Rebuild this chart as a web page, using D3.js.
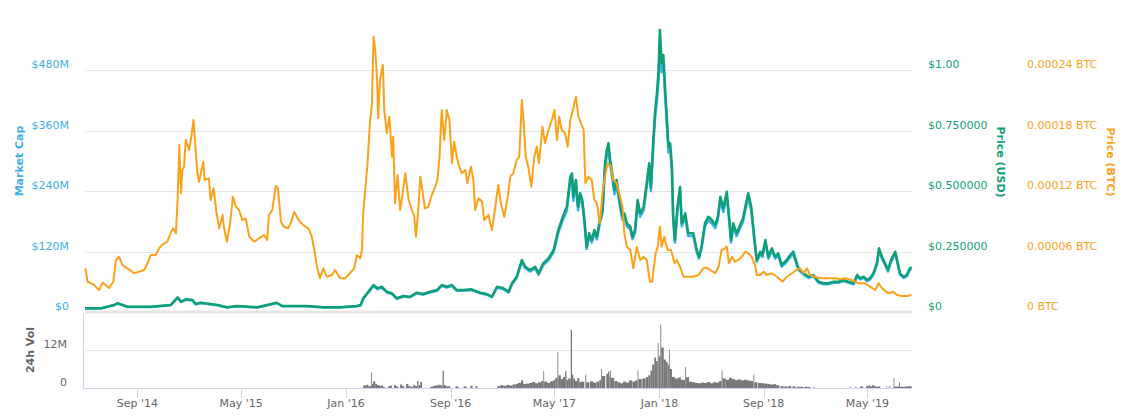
<!DOCTYPE html>
<html><head><meta charset="utf-8">
<script src="https://cdn.jsdelivr.net/npm/d3@7"></script>
<style>body{margin:0;background:#fff}svg text{font-family:"DejaVu Sans",sans-serif}</style>
</head><body><svg id="chart" width="1142" height="417"></svg>
<script>
const btcDates = ["2014-05-03","2014-05-08","2014-05-15","2014-05-23","2014-06-04","2014-06-12","2014-06-19","2014-06-27","2014-07-07","2014-07-13","2014-07-21","2014-07-28","2014-08-09","2014-08-25","2014-09-05","2014-09-17","2014-09-25","2014-10-02","2014-10-14","2014-10-22","2014-11-02","2014-11-10","2014-11-19","2014-11-24","2014-11-30","2014-12-04","2014-12-08","2014-12-12","2014-12-15","2014-12-19","2014-12-23","2014-12-31","2015-01-05","2015-01-10","2015-01-15","2015-01-19","2015-01-23","2015-02-02","2015-02-05","2015-02-15","2015-02-19","2015-02-26","2015-03-05","2015-03-11","2015-03-19","2015-03-22","2015-03-29","2015-04-05","2015-04-12","2015-04-19","2015-04-26","2015-05-04","2015-05-12","2015-05-20","2015-06-01","2015-06-12","2015-06-24","2015-07-01","2015-07-05","2015-07-13","2015-07-21","2015-07-26","2015-08-02","2015-08-09","2015-08-19","2015-08-26","2015-09-02","2015-09-12","2015-09-23","2015-10-05","2015-10-13","2015-10-19","2015-10-25","2015-11-01","2015-11-09","2015-11-17","2015-11-29","2015-12-06","2015-12-18","2015-12-30","2016-01-10","2016-01-20","2016-01-26","2016-02-03","2016-02-07","2016-02-10","2016-02-14","2016-02-20","2016-02-26","2016-03-01","2016-03-05","2016-03-09","2016-03-13","2016-03-16","2016-03-20","2016-03-27","2016-03-30","2016-04-05","2016-04-11","2016-04-17","2016-04-20","2016-04-24","2016-04-30","2016-05-06","2016-05-12","2016-05-18","2016-05-26","2016-05-31","2016-06-08","2016-06-12","2016-06-18","2016-06-22","2016-06-28","2016-07-03","2016-07-11","2016-07-19","2016-07-27","2016-08-01","2016-08-06","2016-08-11","2016-08-17","2016-08-23","2016-08-29","2016-09-04","2016-09-09","2016-09-15","2016-09-21","2016-09-27","2016-10-05","2016-10-10","2016-10-18","2016-10-24","2016-10-28","2016-11-05","2016-11-13","2016-11-18","2016-11-28","2016-12-06","2016-12-14","2016-12-21","2016-12-27","2017-01-04","2017-01-12","2017-01-18","2017-01-25","2017-02-02","2017-02-08","2017-02-14","2017-02-18","2017-02-23","2017-03-01","2017-03-08","2017-03-15","2017-03-21","2017-03-26","2017-04-03","2017-04-09","2017-04-17","2017-04-25","2017-05-01","2017-05-07","2017-05-12","2017-05-18","2017-05-26","2017-06-01","2017-06-07","2017-06-14","2017-06-20","2017-06-26","2017-07-02","2017-07-08","2017-07-12","2017-07-19","2017-07-27","2017-08-02","2017-08-08","2017-08-15","2017-08-21","2017-08-27","2017-09-02","2017-09-10","2017-09-15","2017-09-23","2017-10-01","2017-10-07","2017-10-11","2017-10-17","2017-10-25","2017-11-01","2017-11-09","2017-11-17","2017-11-25","2017-12-02","2017-12-10","2017-12-15","2017-12-23","2017-12-28","2018-01-02","2018-01-06","2018-01-12","2018-01-20","2018-01-28","2018-02-05","2018-02-10","2018-02-18","2018-02-26","2018-03-09","2018-03-21","2018-04-02","2018-04-13","2018-04-20","2018-04-29","2018-05-11","2018-05-19","2018-05-26","2018-06-03","2018-06-07","2018-06-12","2018-06-19","2018-06-26","2018-07-04","2018-07-12","2018-07-20","2018-07-27","2018-08-04","2018-08-12","2018-08-16","2018-08-24","2018-09-01","2018-09-08","2018-09-20","2018-10-02","2018-10-15","2018-10-25","2018-11-06","2018-11-17","2018-11-25","2018-12-03","2018-12-11","2018-12-18","2018-12-30","2019-01-11","2019-01-22","2019-02-03","2019-02-15","2019-02-26","2019-03-10","2019-03-26","2019-04-10","2019-04-26","2019-05-07","2019-05-19","2019-05-27","2019-06-04","2019-06-19","2019-07-01","2019-07-09","2019-07-20","2019-08-01","2019-08-12"];
const btcPrice = [4.33e-5,3.00e-5,2.88e-5,2.68e-5,2.18e-5,2.91e-5,2.68e-5,2.38e-5,3.00e-5,5.16e-5,5.48e-5,4.66e-5,4.33e-5,3.84e-5,4.00e-5,4.17e-5,4.83e-5,5.65e-5,5.65e-5,6.32e-5,6.81e-5,6.97e-5,7.96e-5,8.30e-5,7.80e-5,11.11e-5,16.56e-5,11.77e-5,14.08e-5,14.41e-5,17.06e-5,16.07e-5,17.38e-5,19.04e-5,16.07e-5,13.91e-5,12.92e-5,14.90e-5,13.09e-5,13.26e-5,11.11e-5,12.27e-5,9.79e-5,8.30e-5,9.62e-5,8.46e-5,6.97e-5,8.63e-5,11.43e-5,10.44e-5,10.12e-5,9.12e-5,9.29e-5,7.47e-5,6.97e-5,7.31e-5,7.64e-5,7.14e-5,9.62e-5,10.12e-5,12.50e-5,12.27e-5,8.96e-5,8.46e-5,8.30e-5,8.96e-5,9.95e-5,9.12e-5,8.63e-5,8.30e-5,7.47e-5,6.15e-5,4.49e-5,3.34e-5,4.33e-5,3.50e-5,3.67e-5,4.17e-5,3.34e-5,3.34e-5,3.84e-5,4.33e-5,5.65e-5,5.33e-5,6.15e-5,9.79e-5,11.77e-5,14.75e-5,19.04e-5,20.36e-5,27.30e-5,25.98e-5,23.33e-5,19.21e-5,23.01e-5,24.49e-5,20.03e-5,17.72e-5,19.37e-5,15.40e-5,17.38e-5,10.78e-5,13.59e-5,10.12e-5,11.77e-5,13.75e-5,11.11e-5,10.44e-5,9.45e-5,7.47e-5,10.44e-5,13.42e-5,11.77e-5,10.28e-5,10.44e-5,11.60e-5,12.43e-5,13.09e-5,15.40e-5,20.03e-5,17.06e-5,20.03e-5,19.04e-5,14.75e-5,16.89e-5,15.40e-5,14.41e-5,13.75e-5,14.08e-5,12.76e-5,14.41e-5,13.09e-5,10.12e-5,11.28e-5,10.94e-5,9.12e-5,9.62e-5,8.13e-5,10.44e-5,12.59e-5,10.78e-5,9.45e-5,11.40e-5,13.42e-5,13.75e-5,15.07e-5,15.40e-5,21.02e-5,19.04e-5,15.40e-5,14.41e-5,12.43e-5,15.40e-5,16.39e-5,14.75e-5,18.38e-5,16.73e-5,18.05e-5,19.04e-5,20.03e-5,17.06e-5,19.37e-5,18.05e-5,17.72e-5,16.39e-5,19.04e-5,20.20e-5,21.35e-5,19.37e-5,18.71e-5,18.05e-5,12.76e-5,13.42e-5,13.09e-5,11.11e-5,10.78e-5,8.80e-5,11.77e-5,13.42e-5,14.75e-5,14.41e-5,13.09e-5,12.76e-5,11.43e-5,10.44e-5,7.80e-5,6.48e-5,6.15e-5,4.33e-5,6.48e-5,5.16e-5,5.48e-5,5.16e-5,3.00e-5,3.00e-5,5.82e-5,6.48e-5,8.46e-5,6.48e-5,7.47e-5,6.15e-5,6.15e-5,4.83e-5,5.16e-5,4.49e-5,3.50e-5,3.50e-5,3.50e-5,3.67e-5,4.33e-5,4.40e-5,4.17e-5,3.84e-5,4.49e-5,6.15e-5,6.32e-5,6.48e-5,4.83e-5,5.48e-5,4.99e-5,5.16e-5,5.48e-5,5.98e-5,5.82e-5,5.48e-5,4.66e-5,3.67e-5,3.67e-5,4.00e-5,3.67e-5,3.84e-5,3.50e-5,3.00e-5,3.50e-5,3.84e-5,4.17e-5,4.33e-5,3.84e-5,4.33e-5,3.67e-5,3.50e-5,3.34e-5,3.34e-5,3.34e-5,3.34e-5,3.24e-5,3.34e-5,3.17e-5,2.85e-5,2.85e-5,2.51e-5,2.18e-5,2.85e-5,2.35e-5,1.85e-5,2.01e-5,1.69e-5,1.59e-5,1.59e-5,1.69e-5];

const usdDates = ["2014-05-02","2014-06-08","2014-07-09","2014-07-17","2014-08-09","2014-10-02","2014-11-18","2014-12-04","2014-12-12","2014-12-23","2015-01-08","2015-01-15","2015-01-27","2015-03-07","2015-03-29","2015-04-22","2015-06-08","2015-07-01","2015-07-23","2015-08-05","2015-09-02","2015-10-01","2015-11-09","2015-12-18","2016-01-26","2016-02-04","2016-02-10","2016-02-22","2016-03-05","2016-03-14","2016-03-24","2016-04-05","2016-04-17","2016-04-28","2016-05-14","2016-05-29","2016-06-14","2016-06-29","2016-07-15","2016-07-31","2016-08-11","2016-08-23","2016-09-04","2016-09-15","2016-10-01","2016-10-20","2016-11-09","2016-11-24","2016-12-06","2016-12-18","2017-01-02","2017-01-14","2017-01-22","2017-02-02","2017-02-14","2017-02-22","2017-03-05","2017-03-17","2017-03-25","2017-04-05","2017-04-17","2017-04-29","2017-05-10","2017-05-22","2017-05-30","2017-06-07","2017-06-11","2017-06-14","2017-06-20","2017-06-25","2017-06-30","2017-07-05","2017-07-10","2017-07-15","2017-07-21","2017-07-27","2017-08-02","2017-08-08","2017-08-15","2017-08-21","2017-08-27","2017-08-31","2017-09-04","2017-09-08","2017-09-13","2017-09-18","2017-09-23","2017-10-01","2017-10-07","2017-10-11","2017-10-17","2017-10-25","2017-10-30","2017-11-05","2017-11-11","2017-11-17","2017-11-25","2017-12-02","2017-12-08","2017-12-12","2017-12-18","2017-12-22","2017-12-26","2017-12-30","2018-01-02","2018-01-06","2018-01-10","2018-01-14","2018-01-18","2018-01-22","2018-01-26","2018-01-30","2018-02-02","2018-02-06","2018-02-12","2018-02-18","2018-02-22","2018-03-02","2018-03-09","2018-03-21","2018-03-29","2018-04-03","2018-04-09","2018-04-17","2018-04-25","2018-05-03","2018-05-11","2018-05-17","2018-05-23","2018-05-30","2018-06-07","2018-06-12","2018-06-17","2018-06-22","2018-06-30","2018-07-08","2018-07-15","2018-07-21","2018-07-27","2018-08-03","2018-08-10","2018-08-16","2018-08-24","2018-08-29","2018-09-05","2018-09-12","2018-09-20","2018-09-28","2018-10-05","2018-10-13","2018-10-25","2018-11-02","2018-11-09","2018-11-15","2018-11-21","2018-12-03","2018-12-15","2018-12-26","2019-01-07","2019-01-19","2019-01-30","2019-02-11","2019-02-23","2019-03-06","2019-03-18","2019-03-30","2019-04-07","2019-04-14","2019-04-22","2019-04-30","2019-05-07","2019-05-15","2019-05-23","2019-05-28","2019-06-04","2019-06-11","2019-06-18","2019-06-25","2019-07-05","2019-07-11","2019-07-16","2019-07-24","2019-08-01","2019-08-06","2019-08-11"];
const usdPrice = [0.0153,0.0153,0.0289,0.0360,0.0219,0.0219,0.0289,0.0607,0.0426,0.0525,0.0496,0.0331,0.0384,0.0289,0.0194,0.0248,0.0194,0.0289,0.0384,0.0248,0.0248,0.0248,0.0194,0.0194,0.0248,0.0289,0.0566,0.0839,0.1116,0.0979,0.1045,0.0839,0.0773,0.0566,0.0661,0.0632,0.0798,0.0744,0.0839,0.0909,0.1116,0.1045,0.1116,0.0909,0.0909,0.0938,0.0798,0.0744,0.0632,0.1045,0.0979,0.0839,0.1186,0.1459,0.2149,0.1872,0.1736,0.1872,0.1599,0.2012,0.2219,0.2562,0.3388,0.4008,0.4351,0.5591,0.5731,0.4764,0.5455,0.4351,0.4905,0.4628,0.3802,0.2698,0.3252,0.2975,0.3388,0.3112,0.3802,0.4215,0.6145,0.6694,0.6971,0.6281,0.5731,0.5041,0.5455,0.4492,0.3938,0.4079,0.3665,0.3525,0.3112,0.3388,0.4628,0.4079,0.4351,0.5318,0.6145,0.5178,0.7244,0.8347,0.9037,1.0000,1.1653,1.0277,1.0620,0.9310,0.8070,0.6831,0.6971,0.6004,0.3938,0.2975,0.4351,0.5178,0.3665,0.4079,0.3252,0.3252,0.2562,0.2285,0.2698,0.3665,0.3938,0.3802,0.3595,0.3938,0.4764,0.4285,0.4971,0.4008,0.2975,0.3665,0.3252,0.3595,0.3872,0.4421,0.4905,0.4351,0.3112,0.2149,0.2492,0.2355,0.2975,0.2285,0.2632,0.2285,0.2426,0.1942,0.2149,0.2355,0.2492,0.2149,0.1806,0.1599,0.1459,0.1529,0.1252,0.1186,0.1186,0.1252,0.1252,0.1322,0.1252,0.1186,0.1529,0.1393,0.1459,0.1322,0.1393,0.1599,0.2012,0.2632,0.2285,0.2012,0.1736,0.2149,0.2492,0.2012,0.1599,0.1459,0.1529,0.1736,0.1872];
// market cap in millions of USD, read at the same dates as usdDates
const marketCap = [7.1,7.1,13.4,16.7,10.1,10.1,13.4,28.1,19.7,24.3,23.0,15.3,17.8,13.4,9.0,11.5,9.0,13.4,17.8,11.5,11.5,11.5,9.0,9.0,11.5,13.4,26.2,38.8,51.7,45.3,48.4,38.8,35.8,26.2,30.6,29.3,36.9,34.4,38.8,42.1,51.7,48.4,51.7,42.1,42.1,43.4,36.9,34.4,29.3,48.4,45.3,38.8,54.9,67.6,99.5,86.7,80.4,86.7,74.0,93.2,102.7,118.6,156.9,185.6,201.5,258.9,265.3,220.6,252.6,201.5,227.1,214.3,176.0,124.9,150.6,137.7,156.9,144.1,176.0,195.2,284.5,309.9,322.8,290.8,265.3,233.4,252.6,208.0,182.3,188.9,169.7,163.2,144.1,156.9,214.3,188.9,201.5,246.2,284.5,239.7,335.4,386.5,418.4,463.0,539.5,475.8,491.7,431.1,373.6,316.3,322.8,278.0,182.3,137.7,201.5,239.7,169.7,188.9,150.6,150.6,118.6,105.8,124.9,169.7,182.3,176.0,166.4,182.3,220.6,198.4,230.2,185.6,137.7,169.7,150.6,166.4,179.3,204.7,227.1,201.5,144.1,99.5,115.4,109.0,137.7,105.8,121.9,105.8,112.3,89.9,99.5,109.0,115.4,99.5,83.6,74.0,67.6,70.8,58.0,54.9,54.9,58.0,58.0,61.2,58.0,54.9,70.8,64.5,67.6,61.2,64.5,74.0,93.2,121.9,105.8,93.2,80.4,99.5,115.4,93.2,74.0,67.6,70.8,80.4,86.7];

const volDates = ["2016-02-10","2016-02-17","2016-02-22","2016-02-28","2016-03-01","2016-03-04","2016-03-09","2016-03-13","2016-03-18","2016-03-23","2016-03-27","2016-04-01","2016-04-08","2016-04-13","2016-04-17","2016-04-22","2016-04-27","2016-05-02","2016-05-06","2016-05-11","2016-05-16","2016-05-20","2016-05-25","2016-05-30","2016-06-06","2016-06-10","2016-06-15","2016-06-18","2016-06-22","2016-06-26","2016-07-15","2016-07-22","2016-07-29","2016-08-03","2016-08-09","2016-08-13","2016-08-16","2016-08-21","2016-08-26","2016-08-31","2016-09-12","2016-09-19","2016-10-01","2016-10-08","2016-10-17","2016-10-22","2016-10-29","2016-11-02","2016-12-19","2016-12-26","2017-01-02","2017-01-09","2017-01-16","2017-01-23","2017-01-30","2017-02-05","2017-02-12","2017-02-17","2017-02-24","2017-03-03","2017-03-10","2017-03-17","2017-03-24","2017-03-31","2017-04-05","2017-04-07","2017-04-14","2017-04-21","2017-04-28","2017-05-03","2017-05-08","2017-05-10","2017-05-16","2017-05-21","2017-05-26","2017-05-29","2017-06-02","2017-06-08","2017-06-11","2017-06-14","2017-06-18","2017-06-23","2017-06-28","2017-07-02","2017-07-12","2017-07-14","2017-07-23","2017-07-30","2017-08-07","2017-08-14","2017-08-18","2017-08-20","2017-08-30","2017-09-03","2017-09-06","2017-09-08","2017-09-10","2017-09-18","2017-09-25","2017-10-01","2017-10-08","2017-10-15","2017-10-22","2017-10-30","2017-11-05","2017-11-11","2017-11-13","2017-11-22","2017-11-30","2017-12-06","2017-12-11","2017-12-15","2017-12-20","2017-12-24","2017-12-28","2017-12-30","2018-01-03","2018-01-05","2018-01-11","2018-01-16","2018-01-20","2018-01-23","2018-01-25","2018-01-30","2018-02-06","2018-02-13","2018-02-20","2018-02-27","2018-03-02","2018-03-04","2018-03-11","2018-03-18","2018-03-25","2018-04-01","2018-04-08","2018-04-15","2018-04-22","2018-04-29","2018-05-06","2018-05-13","2018-05-20","2018-05-26","2018-05-28","2018-06-05","2018-06-12","2018-06-19","2018-06-26","2018-07-03","2018-07-10","2018-07-17","2018-07-24","2018-07-31","2018-08-08","2018-08-10","2018-08-19","2018-08-26","2018-09-02","2018-09-09","2018-09-16","2018-09-23","2018-09-30","2018-10-10","2018-10-19","2018-10-28","2018-11-07","2018-11-17","2018-11-25","2018-12-05","2018-12-12","2018-12-19","2018-12-26","2018-12-28","2019-03-21","2019-03-23","2019-04-03","2019-04-05","2019-04-14","2019-04-19","2019-04-21","2019-04-28","2019-05-03","2019-05-07","2019-05-12","2019-05-17","2019-05-21","2019-05-26","2019-05-31","2019-06-14","2019-06-16","2019-06-21","2019-06-23","2019-07-01","2019-07-02","2019-07-09","2019-07-14","2019-07-16","2019-07-23","2019-07-30","2019-08-06","2019-08-11","2019-08-13"];
// 24h volume, millions of USD
const volume = [0.8,1.0,0.6,4.9,1.2,2.1,1.3,0.9,0.7,0.8,0.3,0,0.6,0.8,0,0.9,0.5,0,1.1,0.6,0,1.3,0.7,0.4,1.0,0.6,2.3,0.9,1.9,0,0.4,0.7,0.9,1.0,0.8,5.5,0.9,0.5,0.6,0,0.5,0,0.5,0,0.7,0,0.6,0,0.6,0.9,0.7,1.0,0.8,1.1,1.3,1.6,2.4,1.3,1.4,1.6,1.9,1.5,1.8,2.2,5.3,2.0,1.6,2.1,2.5,3.2,11.3,4.0,2.8,3.5,5.3,2.6,3.0,18.4,4.2,3.0,2.2,3.1,1.9,2.0,4.2,1.8,2.1,1.7,2.0,2.6,6.0,3.8,4.5,5.2,3.6,5.5,3.2,2.2,1.8,1.5,2.0,1.7,2.4,2.0,2.4,5.5,2.8,3.0,3.4,4.0,5.5,7.4,9.6,8.5,14.2,10.0,20.0,12.8,9.0,8.2,7.4,12.1,6.0,3.5,3.0,3.3,2.6,2.5,6.6,3.4,2.0,1.8,1.6,1.5,1.7,1.6,1.9,1.5,1.8,1.7,2.2,5.5,3.0,2.6,3.2,2.8,2.5,2.7,2.4,2.6,2.4,2.2,4.2,1.8,1.6,1.5,1.4,1.3,1.1,1.2,0.9,0.6,0.5,0.6,0.5,0.4,0.4,0.4,0.3,0,0.4,0,0.4,0,0.5,0,0.5,0.6,0,0.6,0.8,0.5,0.9,0.6,0.4,0.5,0,0.5,0,0.6,0,3.2,0.4,0.5,1.8,0.4,0.4,0.5,0.6,0.4,0];

const capTicks = [0,120,240,360,480];
const capTickLabels = ["$0","$120M","$240M","$360M","$480M"];
const usdTicks = [0,0.25,0.5,0.75,1];
const usdTickLabels = ["$0","$0.250000","$0.500000","$0.750000","$1.00"];
const btcTicks = [0,0.00006,0.00012,0.00018,0.00024];
const btcTickLabels = ["0 BTC","0.00006 BTC","0.00012 BTC","0.00018 BTC","0.00024 BTC"];
const volTicks = [0,12];
const volTickLabels = ["0","12M"];
const xTickDates = ["2014-09-01","2015-05-01","2016-01-01","2016-09-01","2017-05-01","2018-01-01","2018-09-01","2019-05-01"];
const xTickLabels = ["Sep '14","May '15","Jan '16","Sep '16","May '17","Jan '18","Sep '18","May '19"];

const C = {cap:"#3bb0e8", usd:"#0f9f76", btc:"#fca11a", grid:"#e6e6e6", axis:"#ccd6eb", vol:"#777777", text:"#666666"};
const P = {left:85, right:912, top:70, zero:312, vTop:312, vZero:388};

const parse = d3.utcParse("%Y-%m-%d");
const svg = d3.select("#chart");

const x = d3.scaleUtc().domain([parse("2014-05-02"), parse("2019-08-13")]).range([P.left, P.right]);
const yCap = d3.scaleLinear().domain([0,480]).range([P.zero, P.top]);
const yUsd = d3.scaleLinear().domain([0,1]).range([P.zero, P.top]);
const yBtc = d3.scaleLinear().domain([0,0.00024]).range([P.zero, P.top]);
const yVol = d3.scaleLinear().domain([0,24]).range([P.vZero, P.vTop]);

// gridlines main
svg.append("g").selectAll("line").data(capTicks.slice(1)).join("line")
  .attr("x1",P.left).attr("x2",P.right)
  .attr("y1",d=>Math.round(yCap(d))+0.5).attr("y2",d=>Math.round(yCap(d))+0.5)
  .attr("stroke",C.grid).attr("stroke-width",1);
svg.append("rect").attr("x",P.left).attr("y",P.zero-1.5).attr("width",P.right-P.left).attr("height",3).attr("fill",C.grid);

// volume grid + axes
svg.append("g").selectAll("line").data(volTicks.slice(1)).join("line")
  .attr("x1",P.left).attr("x2",P.right)
  .attr("y1",d=>Math.round(yVol(d))+0.5).attr("y2",d=>Math.round(yVol(d))+0.5)
  .attr("stroke",C.grid);

// volume bars
const vd = volDates.map(parse);
svg.append("g").selectAll("rect").data(volume.map((v,i)=>({d:vd[i],v,n:vd[i+1]})).filter(e=>e.v>0 && e.n)).join("rect")
  .attr("x",e=>x(e.d))
  .attr("width",e=>Math.max(0.8, Math.min(x(e.n)-x(e.d), 3.2)))
  .attr("y",e=>yVol(e.v)).attr("height",e=>P.vZero-yVol(e.v))
  .attr("fill",C.vol);

svg.append("line").attr("x1",83.5).attr("x2",83.5).attr("y1",P.vTop+1).attr("y2",P.vZero).attr("stroke",C.axis);
svg.append("line").attr("x1",P.left-2).attr("x2",P.right).attr("y1",P.vZero+0.5).attr("y2",P.vZero+0.5).attr("stroke",C.axis);

// x axis ticks & labels
const xt = xTickDates.map(parse);
svg.append("g").selectAll("line").data(xt).join("line")
  .attr("x1",d=>Math.round(x(d))+0.5).attr("x2",d=>Math.round(x(d))+0.5)
  .attr("y1",P.vZero).attr("y2",P.vZero+10).attr("stroke",C.axis);
svg.append("g").selectAll("text").data(xt).join("text")
  .attr("x",d=>x(d)).attr("y",407).attr("text-anchor","middle")
  .attr("font-size",11).attr("fill",C.text).text((d,i)=>xTickLabels[i]);

// lines
const line = (dates, vals, ys) => d3.line().x((d,i)=>x(parse(dates[i]))).y((d,i)=>ys(vals[i]))(vals);
svg.append("path").attr("d",line(usdDates, marketCap, yCap)).attr("fill","none").attr("stroke",C.cap).attr("stroke-width",2.5).attr("stroke-linejoin","round");
svg.append("path").attr("d",line(usdDates, usdPrice, yUsd)).attr("fill","none").attr("stroke",C.usd).attr("stroke-width",2.5).attr("stroke-linejoin","round");
svg.append("path").attr("d",line(btcDates, btcPrice, yBtc)).attr("fill","none").attr("stroke",C.btc).attr("stroke-width",2).attr("stroke-linejoin","round");

// y labels
svg.append("g").selectAll("text").data(capTicks).join("text")
  .attr("x",69).attr("y",d=>yCap(d)-2).attr("text-anchor","end")
  .attr("font-size",11).attr("fill",C.cap).text((d,i)=>capTickLabels[i]);
svg.append("g").selectAll("text").data(usdTicks).join("text")
  .attr("x",928).attr("y",d=>yUsd(d)-2).attr("text-anchor","start")
  .attr("font-size",11).attr("fill",C.usd).text((d,i)=>usdTickLabels[i]);
svg.append("g").selectAll("text").data(btcTicks).join("text")
  .attr("x",1027).attr("y",d=>yBtc(d)-2).attr("text-anchor","start")
  .attr("font-size",11).attr("fill",C.btc).text((d,i)=>btcTickLabels[i]);
svg.append("g").selectAll("text").data(volTicks).join("text")
  .attr("x",67).attr("y",d=>yVol(d)-2).attr("text-anchor","end")
  .attr("font-size",11).attr("fill",C.text).text((d,i)=>volTickLabels[i]);

// axis titles
const title = (t, cx, cy, rot, col) => svg.append("text")
  .attr("transform",`translate(${cx},${cy}) rotate(${rot})`)
  .attr("text-anchor","middle").attr("dominant-baseline","central")
  .attr("font-size",11).attr("font-weight","bold").attr("fill",col).text(t);
title("Market Cap", 19, 161, -90, C.cap);
title("Price (USD)", 1000, 162, 90, C.usd);
title("Price (BTC)", 1110, 162, 90, C.btc);
title("24h Vol", 30, 350, -90, C.text);
</script></body></html>
